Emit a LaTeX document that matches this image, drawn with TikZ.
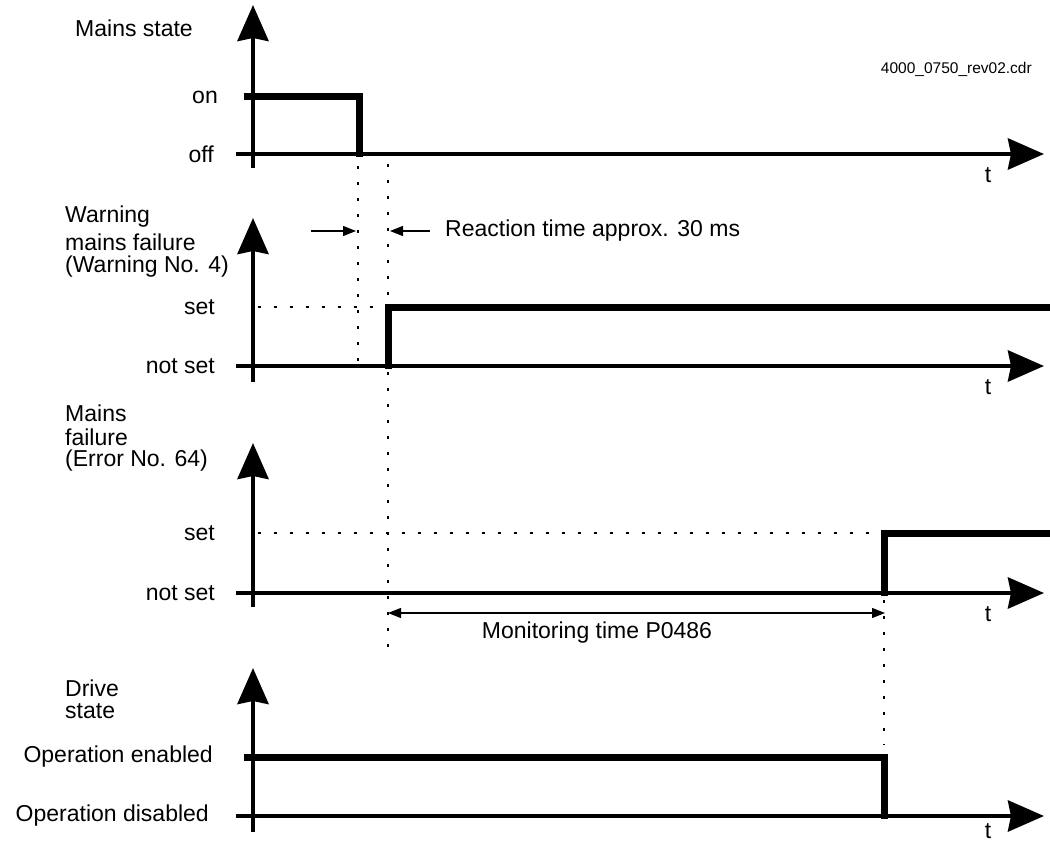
\documentclass[tikz,border=0pt]{standalone}
\usepackage{fontspec}
\setmainfont{Liberation Sans}
\usetikzlibrary{arrows.meta}
\tikzset{
  axis/.style={line width=4.5pt, -{Stealth[length=36pt,width=31pt,inset=3pt]}},
  level/.style={line width=7pt},
  guide/.style={line width=2.6pt, dash pattern=on 2.6pt off 13.4pt},
  span/.style={line width=1.2pt, -{Triangle[length=13pt,width=10pt]}},
  lbl/.style={anchor=east, inner sep=0pt},
  ttl/.style={anchor=west, inner sep=0pt, align=left},
  tlbl/.style={inner sep=0pt},
}

\begin{document}
\begin{tikzpicture}[x=1pt,y=-1pt,font=\fontsize{23}{24.5}\selectfont]
\useasboundingbox (0,0) rectangle (1050,845);
%\draw [help lines, step=50] (0,0) grid (1050,845);

% dotted guides
\draw [guide] (358,166)--(358,366);
\draw [guide] (388,164)--(388,650);
\draw [guide] (884,600)--(884,745);
\draw [guide] (258,307)--(386,307);
\draw [guide] (258,533)--(882,533);

% mains state
\draw [axis] (253,168)--(253,5);
\draw [axis] (236,154)--(1044,154);
\draw [level] (244,97)--(359,97)--(359,157);
\node [ttl] at (75,28) {Mains state};
\node [lbl] at (218,97) {on};
\node [lbl] at (214,154) {off};
\node [tlbl] at (988,175) {t};
\node [anchor=east, inner sep=0pt, font=\fontsize{15.5}{17}\selectfont] at (1032,69) {4000\_0750\_rev02.cdr};

% warning mains failure
\draw [axis] (253,382)--(253,218);
\draw [axis] (236,366)--(1044,366);
\draw [level] (388,369)--(388,307)--(1050,307);
\node [ttl] at (65,217) {Warning};
\node [ttl] at (65,242) {mains failure};
\node [ttl] at (65,267) {(Warning No. 4)};
\node [lbl] at (215,307) {set};
\node [lbl] at (215,366) {not set};
\node [tlbl] at (988,387) {t};
\coordinate (r1) at (311,231);
\coordinate (r2) at (356,231);
\coordinate (r3) at (430,231);
\coordinate (r4) at (390,231);
\draw [span] (r1)--(r2);
\draw [span] (r3)--(r4);
\node [anchor=west, inner sep=0pt] at (445,231) {Reaction time approx. 30 ms};

% mains failure
\draw [axis] (253,607)--(253,443);
\draw [axis] (236,593)--(1044,593);
\draw [level] (884,596)--(884,533)--(1050,533);
\node [ttl] at (65,413) {Mains};
\node [ttl] at (65,437) {failure};
\node [ttl] at (65,461) {(Error No. 64)};
\node [lbl] at (215,533) {set};
\node [lbl] at (215,593) {not set};
\node [tlbl] at (988,614) {t};
\coordinate (m1) at (388,613);
\coordinate (m2) at (885,613);
\draw [span, {Triangle[length=13pt,width=10pt]}-{Triangle[length=13pt,width=10pt]}] (m1)--(m2);
\node [inner sep=0pt] at (597,633) {Monitoring time P0486};

% drive state
\draw [axis] (253,832)--(253,668);
\draw [axis] (236,816)--(1044,816);
\draw [level] (244,757)--(884,757)--(884,819);
\node [ttl] at (65,688) {Drive};
\node [ttl] at (65,711) {state};
\node [lbl] at (213,757) {Operation enabled};
\node [lbl] at (209,816) {Operation disabled};
\node [tlbl] at (988,831) {t};
\end{tikzpicture}
\end{document}
